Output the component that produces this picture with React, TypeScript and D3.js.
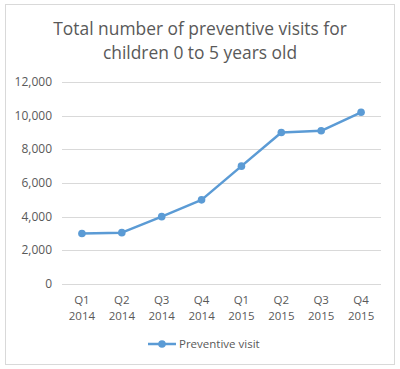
import React, { useEffect, useRef } from 'react';
import * as d3 from 'd3';

const quarters = ['Q1', 'Q2', 'Q3', 'Q4', 'Q1', 'Q2', 'Q3', 'Q4'];
const years = ['2014', '2014', '2014', '2014', '2015', '2015', '2015', '2015'];
const visits = [3000, 3050, 4000, 5000, 7000, 9000, 9100, 10200];
const yTicks = [0, 2000, 4000, 6000, 8000, 10000, 12000];
const seriesName = 'Preventive visit';
const titleLines = ['Total number of preventive visits for', 'children 0 to 5 years old'];

const App: React.FC = () => {
  const svgRef = useRef<SVGSVGElement | null>(null);

  useEffect(() => {
    if (!svgRef.current) return;
    const svg = d3.select(svgRef.current);
    svg.selectAll('*').remove();

    const width = 400;
    const height = 369;
    const font = '"Open Sans", "Noto Sans", sans-serif';
    const textColor = '#595959';
    const lineColor = '#5B9BD5';

    svg.attr('width', width).attr('height', height);

    // Outer frame
    svg.append('rect')
      .attr('x', 5.5).attr('y', 4.5)
      .attr('width', 389).attr('height', 360)
      .attr('fill', '#fff')
      .attr('stroke', '#d9d9d9');

    // Title
    svg.append('g').selectAll('text')
      .data(titleLines)
      .enter()
      .append('text')
      .attr('x', 200)
      .attr('y', (_, i) => 35 + i * 24)
      .attr('text-anchor', 'middle')
      .style('font-family', font)
      .style('font-size', '17.4px')
      .style('fill', textColor)
      .text(d => d);

    const plot = { left: 62, right: 381, top: 82, bottom: 284 };

    const x = d3.scaleBand<number>()
      .domain(d3.range(visits.length))
      .range([plot.left, plot.right]);

    const y = d3.scaleLinear()
      .domain([0, 12000])
      .range([plot.bottom, plot.top]);

    // Grid lines
    svg.append('g')
      .selectAll('line')
      .data(yTicks)
      .enter()
      .append('line')
      .attr('x1', plot.left)
      .attr('x2', plot.right)
      .attr('y1', d => Math.round(y(d)) + 0.5)
      .attr('y2', d => Math.round(y(d)) + 0.5)
      .attr('stroke', '#d9d9d9')
      .attr('stroke-width', 1);

    // Y tick labels
    svg.append('g')
      .selectAll('text')
      .data(yTicks)
      .enter()
      .append('text')
      .attr('x', 52)
      .attr('y', d => y(d) + 4)
      .attr('text-anchor', 'end')
      .style('font-family', font)
      .style('font-size', '12px')
      .style('fill', textColor)
      .text(d => d3.format(',')(d));

    // X labels (two lines)
    const xLabels = svg.append('g');
    visits.forEach((_, i) => {
      const cx = (x(i) as number) + x.bandwidth() / 2;
      xLabels.append('text')
        .attr('x', cx).attr('y', 304)
        .attr('text-anchor', 'middle')
        .style('font-family', font)
        .style('font-size', '11.5px')
        .style('fill', textColor)
        .text(quarters[i]);
      xLabels.append('text')
        .attr('x', cx).attr('y', 320)
        .attr('text-anchor', 'middle')
        .style('font-family', font)
        .style('font-size', '11.5px')
        .style('fill', textColor)
        .text(years[i]);
    });

    // Line
    const line = d3.line<number>()
      .x((_, i) => (x(i) as number) + x.bandwidth() / 2)
      .y(d => y(d));

    svg.append('path')
      .datum(visits)
      .attr('fill', 'none')
      .attr('stroke', lineColor)
      .attr('stroke-width', 2.5)
      .attr('stroke-linejoin', 'round')
      .attr('d', line);

    svg.append('g')
      .selectAll('circle')
      .data(visits)
      .enter()
      .append('circle')
      .attr('cx', (_, i) => (x(i) as number) + x.bandwidth() / 2)
      .attr('cy', d => y(d))
      .attr('r', 3.8)
      .attr('fill', lineColor);

    // Legend
    const legend = svg.append('g');
    legend.append('line')
      .attr('x1', 148).attr('x2', 176)
      .attr('y1', 344).attr('y2', 344)
      .attr('stroke', lineColor)
      .attr('stroke-width', 2.5);
    legend.append('circle')
      .attr('cx', 162).attr('cy', 344)
      .attr('r', 3.8)
      .attr('fill', lineColor);
    legend.append('text')
      .attr('x', 179).attr('y', 348)
      .style('font-family', font)
      .style('font-size', '11.5px')
      .style('fill', textColor)
      .text(seriesName);
  }, []);

  return (
    <svg ref={svgRef} style={{ position: 'absolute', left: 0, top: 0 }}></svg>
  );
};

export default App;
